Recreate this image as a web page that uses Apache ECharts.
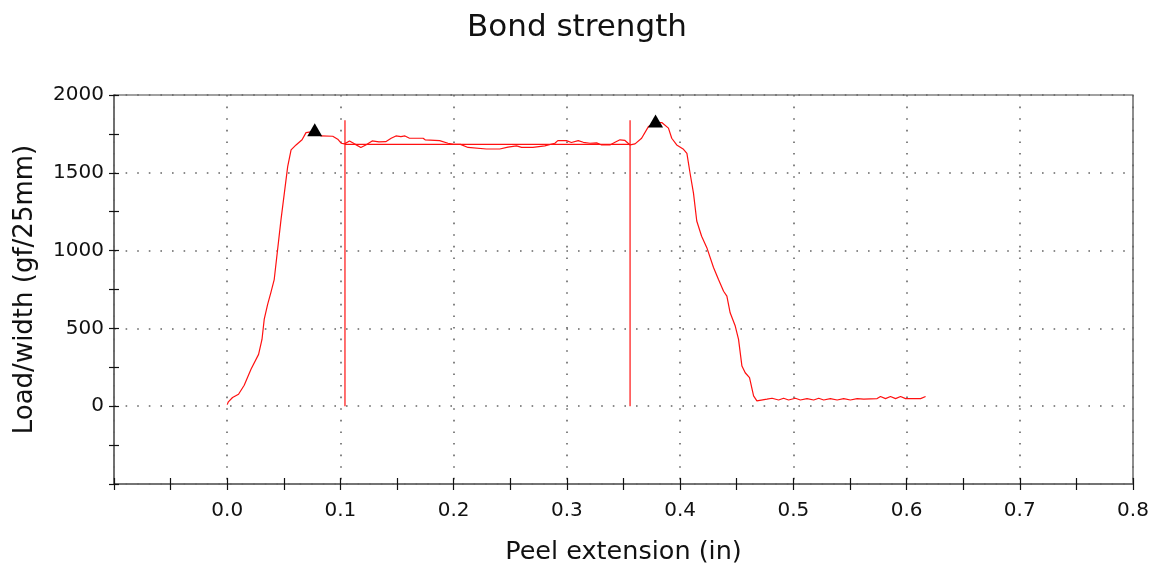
<!DOCTYPE html>
<html>
<head>
<meta charset="utf-8">
<script src="https://cdn.jsdelivr.net/npm/echarts@6/dist/echarts.min.js"></script>
<style>
html,body{margin:0;padding:0;background:#fff;}
#chart{width:1154px;height:570px;}
</style>
</head>
<body>
<div id="chart"></div>
<script>
const titleText = 'Bond strength';
const xAxisName = 'Peel extension (in)';
const yAxisName = 'Load/width (gf/25mm)';

// Peel extension (in), load/width (gf/25mm)
const curve = [
  [0.000, 10], [0.001, 28], [0.0047, 56], [0.010, 77], [0.015, 135], [0.021, 237],
  [0.0277, 333], [0.0307, 429], [0.0327, 560], [0.0357, 654], [0.0386, 731],
  [0.0415, 814], [0.0475, 1199], [0.0534, 1540], [0.0564, 1647], [0.0608, 1679],
  [0.0661, 1712], [0.0696, 1758], [0.0752, 1765], [0.083, 1737], [0.0932, 1735],
  [0.0976, 1716], [0.1006, 1690], [0.1035, 1686], [0.108, 1705], [0.1124, 1686],
  [0.118, 1663], [0.1224, 1679], [0.128, 1705], [0.134, 1699], [0.140, 1700],
  [0.1448, 1722], [0.149, 1737], [0.1534, 1733], [0.157, 1737], [0.161, 1722],
  [0.173, 1722], [0.1748, 1712], [0.1876, 1707], [0.195, 1690], [0.200, 1683],
  [0.206, 1683], [0.2127, 1663], [0.2289, 1653], [0.2407, 1653], [0.248, 1665],
  [0.2555, 1673], [0.260, 1663], [0.270, 1663], [0.2805, 1673], [0.2894, 1690],
  [0.292, 1707], [0.2996, 1707], [0.304, 1695], [0.310, 1707], [0.3145, 1696],
  [0.3204, 1690], [0.3263, 1692], [0.3307, 1679], [0.338, 1679], [0.3425, 1696],
  [0.3469, 1712], [0.3513, 1708], [0.3558, 1679], [0.3602, 1686], [0.366, 1722],
  [0.372, 1797], [0.378, 1823], [0.3838, 1823], [0.3897, 1787], [0.3926, 1722],
  [0.397, 1679], [0.403, 1651], [0.406, 1625], [0.4088, 1497], [0.4118, 1369],
  [0.4147, 1190], [0.419, 1092], [0.4236, 1019], [0.4295, 891], [0.4339, 814],
  [0.4384, 739], [0.4413, 707], [0.4442, 600], [0.4487, 515], [0.4516, 429],
  [0.4546, 258], [0.4575, 215], [0.4613, 183], [0.4649, 66], [0.4678, 34],
  [0.4767, 45], [0.4812, 51], [0.4870, 40], [0.4914, 51], [0.4958, 40],
  [0.5018, 51], [0.5062, 40], [0.5121, 49], [0.5180, 40], [0.5224, 51],
  [0.5268, 40], [0.5327, 49], [0.5387, 40], [0.5445, 49], [0.5504, 40],
  [0.5564, 49], [0.5622, 45], [0.5740, 49], [0.5770, 62], [0.5814, 49],
  [0.5858, 62], [0.5903, 49], [0.5947, 62], [0.5991, 49], [0.6065, 49],
  [0.6124, 49], [0.6168, 62]
];
const peaks = [[0.0773, 1776], [0.3783, 1833]];
const avgLine = [[0.1040, 1683], [0.3558, 1683]];
const leftLimit = [[0.1040, 0], [0.1040, 1838]];
const rightLimit = [[0.3558, 0], [0.3558, 1838]];

const xMin = -0.1, xMax = 0.8, xStep = 0.1;
const yMin = -500, yMax = 2000, yStep = 500;

const FONT = 'DejaVu Sans';
const gridLine = { show: true, lineStyle: { color: '#666', width: 1.6, type: [1.6, 10] } };

function xAxisCfg(inside) {
  return {
    type: 'value', position: 'bottom', offset: 0,
    min: xMin, max: xMax, interval: xStep,
    name: inside ? '' : xAxisName, nameLocation: 'middle', nameGap: 55,
    nameTextStyle: { fontFamily: FONT, fontSize: 25.5, color: '#111' },
    axisLine: { show: !inside, onZero: false, lineStyle: { color: '#666', width: 1.5 } },
    axisTick: { show: true, inside: inside, length: 6, lineStyle: { color: '#111', width: 1.2 } },
    minorTick: { show: true, splitNumber: 2, length: 6, lineStyle: { color: '#111', width: 1.2 } },
    axisLabel: {
      show: !inside, margin: 17, fontFamily: FONT, fontSize: 20, color: '#111',
      formatter: v => (v < -1e-9 ? '' : v.toFixed(1))
    },
    splitLine: inside ? { show: false } : gridLine
  };
}
function yAxisCfg(inside) {
  return {
    type: 'value', position: 'left', offset: 0,
    min: yMin, max: yMax, interval: yStep,
    name: inside ? '' : yAxisName, nameLocation: 'middle', nameGap: 76, nameRotate: 90,
    nameTextStyle: { fontFamily: FONT, fontSize: 26, color: '#111' },
    axisLine: { show: !inside, onZero: false, lineStyle: { color: '#666', width: 1.5 } },
    axisTick: { show: true, inside: inside, length: 5, lineStyle: { color: '#111', width: 1.2 } },
    minorTick: { show: true, splitNumber: 2, length: 5, lineStyle: { color: '#111', width: 1.2 } },
    axisLabel: {
      show: !inside, margin: 10, fontFamily: FONT, fontSize: 20, color: '#111',
      formatter: v => (v < 0 ? '' : String(v))
    },
    splitLine: inside ? { show: false } : gridLine
  };
}

const lineStyleRed = { color: '#ff1010', width: 1.2 };

const chart = echarts.init(document.getElementById('chart'), null, { renderer: 'canvas' });
chart.setOption({
  animation: false,
  backgroundColor: '#fff',
  title: {
    text: titleText, left: 'center', top: 7,
    textStyle: { fontFamily: FONT, fontSize: 31, fontWeight: 'normal', color: '#111' }
  },
  grid: { left: 114, right: 21, top: 95, bottom: 85, show: true, borderColor: '#444', borderWidth: 1.2, containLabel: false },
  xAxis: [xAxisCfg(false), xAxisCfg(true)],
  yAxis: [yAxisCfg(false), yAxisCfg(true)],
  series: [
    { type: 'line', data: curve, showSymbol: false, symbol: 'none', lineStyle: lineStyleRed, z: 3 },
    { type: 'line', data: avgLine, showSymbol: false, symbol: 'none', lineStyle: lineStyleRed, z: 3 },
    { type: 'line', data: leftLimit, showSymbol: false, symbol: 'none', lineStyle: lineStyleRed, z: 3 },
    { type: 'line', data: rightLimit, showSymbol: false, symbol: 'none', lineStyle: lineStyleRed, z: 3 },
    { type: 'scatter', data: peaks, symbol: 'triangle', symbolSize: [15, 13], itemStyle: { color: '#000', opacity: 1 }, z: 5 }
  ]
});
</script>
</body>
</html>
